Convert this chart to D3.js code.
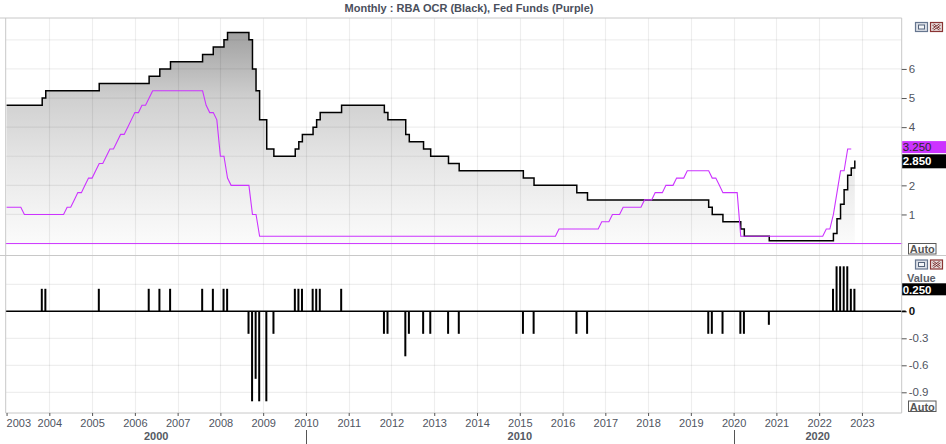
<!DOCTYPE html>
<html><head><meta charset="utf-8">
<script src="https://cdn.jsdelivr.net/npm/d3@7"></script>
<style>
body{margin:0;background:#fff;}
svg{display:block;font-family:"Liberation Sans",Arial,sans-serif;}
</style>
</head><body>
<svg id="chart" width="946" height="444"></svg>
<script>
// ---------------- DATA ----------------
const titleText = "Monthly : RBA OCR (Black), Fed Funds (Purple)";
const firstYear = 2003;
// RBA cash rate, one row per year (Jan..Dec), last row ends Nov 2022
const rbaOcr = [
  [4.75,4.75,4.75,4.75,4.75,4.75,4.75,4.75,4.75,4.75,5.00,5.25], // 2003
  [5.25,5.25,5.25,5.25,5.25,5.25,5.25,5.25,5.25,5.25,5.25,5.25], // 2004
  [5.25,5.25,5.50,5.50,5.50,5.50,5.50,5.50,5.50,5.50,5.50,5.50], // 2005
  [5.50,5.50,5.50,5.50,5.75,5.75,5.75,6.00,6.00,6.00,6.25,6.25], // 2006
  [6.25,6.25,6.25,6.25,6.25,6.25,6.25,6.50,6.50,6.50,6.75,6.75], // 2007
  [6.75,7.00,7.25,7.25,7.25,7.25,7.25,7.25,7.00,6.00,5.25,4.25], // 2008
  [4.25,3.25,3.25,3.00,3.00,3.00,3.00,3.00,3.00,3.25,3.50,3.75], // 2009
  [3.75,3.75,4.00,4.25,4.50,4.50,4.50,4.50,4.50,4.50,4.75,4.75], // 2010
  [4.75,4.75,4.75,4.75,4.75,4.75,4.75,4.75,4.75,4.75,4.50,4.25], // 2011
  [4.25,4.25,4.25,4.25,3.75,3.50,3.50,3.50,3.50,3.25,3.25,3.00], // 2012
  [3.00,3.00,3.00,3.00,2.75,2.75,2.75,2.50,2.50,2.50,2.50,2.50], // 2013
  [2.50,2.50,2.50,2.50,2.50,2.50,2.50,2.50,2.50,2.50,2.50,2.50], // 2014
  [2.50,2.25,2.25,2.25,2.00,2.00,2.00,2.00,2.00,2.00,2.00,2.00], // 2015
  [2.00,2.00,2.00,2.00,1.75,1.75,1.75,1.50,1.50,1.50,1.50,1.50], // 2016
  [1.50,1.50,1.50,1.50,1.50,1.50,1.50,1.50,1.50,1.50,1.50,1.50], // 2017
  [1.50,1.50,1.50,1.50,1.50,1.50,1.50,1.50,1.50,1.50,1.50,1.50], // 2018
  [1.50,1.50,1.50,1.50,1.50,1.25,1.00,1.00,1.00,0.75,0.75,0.75], // 2019
  [0.75,0.75,0.50,0.25,0.25,0.25,0.25,0.25,0.25,0.25,0.10,0.10], // 2020
  [0.10,0.10,0.10,0.10,0.10,0.10,0.10,0.10,0.10,0.10,0.10,0.10], // 2021
  [0.10,0.10,0.10,0.10,0.35,0.85,1.35,1.85,2.35,2.60,2.85]       // 2022
];
// Fed funds target (upper bound), month end, last row ends Oct 2022
const fedFunds = [
  [1.25,1.25,1.25,1.25,1.25,1.00,1.00,1.00,1.00,1.00,1.00,1.00], // 2003
  [1.00,1.00,1.00,1.00,1.00,1.25,1.25,1.50,1.75,1.75,2.00,2.25], // 2004
  [2.25,2.50,2.75,2.75,3.00,3.25,3.25,3.50,3.75,3.75,4.00,4.25], // 2005
  [4.50,4.50,4.75,4.75,5.00,5.25,5.25,5.25,5.25,5.25,5.25,5.25], // 2006
  [5.25,5.25,5.25,5.25,5.25,5.25,5.25,5.25,4.75,4.50,4.50,4.25], // 2007
  [3.00,3.00,2.25,2.00,2.00,2.00,2.00,2.00,2.00,1.00,1.00,0.25], // 2008
  [0.25,0.25,0.25,0.25,0.25,0.25,0.25,0.25,0.25,0.25,0.25,0.25], // 2009
  [0.25,0.25,0.25,0.25,0.25,0.25,0.25,0.25,0.25,0.25,0.25,0.25], // 2010
  [0.25,0.25,0.25,0.25,0.25,0.25,0.25,0.25,0.25,0.25,0.25,0.25], // 2011
  [0.25,0.25,0.25,0.25,0.25,0.25,0.25,0.25,0.25,0.25,0.25,0.25], // 2012
  [0.25,0.25,0.25,0.25,0.25,0.25,0.25,0.25,0.25,0.25,0.25,0.25], // 2013
  [0.25,0.25,0.25,0.25,0.25,0.25,0.25,0.25,0.25,0.25,0.25,0.25], // 2014
  [0.25,0.25,0.25,0.25,0.25,0.25,0.25,0.25,0.25,0.25,0.25,0.50], // 2015
  [0.50,0.50,0.50,0.50,0.50,0.50,0.50,0.50,0.50,0.50,0.50,0.75], // 2016
  [0.75,0.75,1.00,1.00,1.00,1.25,1.25,1.25,1.25,1.25,1.25,1.50], // 2017
  [1.50,1.50,1.75,1.75,1.75,2.00,2.00,2.00,2.25,2.25,2.25,2.50], // 2018
  [2.50,2.50,2.50,2.50,2.50,2.50,2.25,2.25,2.00,1.75,1.75,1.75], // 2019
  [1.75,1.75,0.25,0.25,0.25,0.25,0.25,0.25,0.25,0.25,0.25,0.25], // 2020
  [0.25,0.25,0.25,0.25,0.25,0.25,0.25,0.25,0.25,0.25,0.25,0.25], // 2021
  [0.25,0.25,0.50,0.50,1.00,1.75,2.50,2.50,3.25,3.25]            // 2022
];
const yearTicks = [2003,2004,2005,2006,2007,2008,2009,2010,2011,2012,2013,2014,2015,2016,2017,2018,2019,2020,2021,2022,2023];
const decadeLabels = [{label:"2000", from:2003, to:2010},{label:"2010", from:2010, to:2020},{label:"2020", from:2020, to:2024}];
const topTicks = [1,2,4,5,6];          // "3" sits under the value tags
const topGrid = [1,2,3,4,5,6,7];
const bottomTicks = [0,-0.3,-0.6,-0.9]; // "0.3" sits under the value tag
const bottomGrid = [0.3,-0.3,-0.6,-0.9];
const lastFed = "3.250", lastRba = "2.850", lastChange = "0.250";

// ---------------- SERIES ----------------
const toSeries = rows => rows.flatMap((row,yi)=>row.map((v,mi)=>({t: firstYear+yi+mi/12, v})));
const rba = toSeries(rbaOcr);
const fed = toSeries(fedFunds);
const changes = rba.map((d,i)=>({t:d.t, v: i===0?0:+(d.v-rba[i-1].v).toFixed(2)}));

// ---------------- LAYOUT ----------------
const L = 5.7, R = 901.7, T = 18, MID = 255.5, B = 413;
const svg = d3.select("#chart");
const x = d3.scaleLinear().domain([2002.98, 2023.93]).range([L, R]);
const yT = d3.scaleLinear().domain([-0.41, 7.75]).range([MID, T]);
const yB = d3.scaleLinear().domain([-1.13, 0.62]).range([B, MID]);
const purple = "#cc33ff";
const gridCol = "rgba(0,0,0,0.065)";
const txtCol = "#50555f";

const defs = svg.append("defs");
const grad = defs.append("linearGradient").attr("id","fillg")
  .attr("gradientUnits","userSpaceOnUse").attr("x1",0).attr("x2",0).attr("y1",T).attr("y2",yT(0));
[[0,"#9a9a9a"],[0.06,"#a0a0a0"],[0.23,"#bbbbbb"],[0.36,"#d0d0d0"],[0.64,"#e6e6e6"],[0.87,"#f4f4f4"],[1,"#fbfbfb"]]
  .forEach(([o,c])=>grad.append("stop").attr("offset",o).attr("stop-color",c));
defs.append("clipPath").attr("id","clipT").append("rect").attr("x",L).attr("y",T).attr("width",R-L).attr("height",MID-T);
defs.append("clipPath").attr("id","clipB").append("rect").attr("x",L).attr("y",MID).attr("width",R-L).attr("height",B-MID);

// title
svg.append("text").attr("x",469).attr("y",12).attr("text-anchor","middle")
  .attr("font-weight","bold").attr("font-size",11).attr("fill","#4a4f5c").text(titleText);

// ---------------- TOP PANEL ----------------
const gT = svg.append("g").attr("clip-path","url(#clipT)");
gT.append("path").datum(rba)
  .attr("d", d3.area().curve(d3.curveStepAfter).x(d=>x(d.t)).y0(yT(0)).y1(d=>yT(d.v)))
  .attr("fill","url(#fillg)");
gT.selectAll(".vg").data(yearTicks.slice(1)).join("line")
  .attr("x1",d=>Math.round(x(d))+0.5).attr("x2",d=>Math.round(x(d))+0.5).attr("y1",T).attr("y2",MID)
  .attr("stroke",gridCol).attr("stroke-width",1.2);
gT.selectAll(".hg").data(topGrid).join("line")
  .attr("x1",L).attr("x2",R).attr("y1",d=>yT(d)).attr("y2",d=>yT(d))
  .attr("stroke",gridCol).attr("stroke-width",1.2);
gT.append("path").datum(rba)
  .attr("d", d3.line().curve(d3.curveStepAfter).x(d=>x(d.t)).y(d=>yT(d.v)))
  .attr("fill","none").attr("stroke","#000").attr("stroke-width",1.5);
gT.append("path").datum(fed)
  .attr("d", d3.line().x(d=>x(d.t)).y(d=>yT(d.v)))
  .attr("fill","none").attr("stroke",purple).attr("stroke-width",1.1);
svg.append("line").attr("x1",L).attr("x2",R+0.5).attr("y1",yT(0)).attr("y2",yT(0))
  .attr("stroke",purple).attr("stroke-width",1);

// ---------------- BOTTOM PANEL ----------------
const gB = svg.append("g").attr("clip-path","url(#clipB)");
gB.selectAll(".vg").data(yearTicks.slice(1)).join("line")
  .attr("x1",d=>Math.round(x(d))+0.5).attr("x2",d=>Math.round(x(d))+0.5).attr("y1",MID).attr("y2",B)
  .attr("stroke",gridCol).attr("stroke-width",1.2);
gB.selectAll(".hg").data(bottomGrid).join("line")
  .attr("x1",L).attr("x2",R).attr("y1",d=>yB(d)).attr("y2",d=>yB(d))
  .attr("stroke",gridCol).attr("stroke-width",1.2);
gB.selectAll(".bar").data(changes.filter(d=>d.v!==0)).join("rect")
  .attr("x",d=>x(d.t)-1.4).attr("width",2)
  .attr("y",d=>Math.min(yB(d.v),yB(0))).attr("height",d=>Math.abs(yB(d.v)-yB(0)))
  .attr("fill","#000");
svg.append("line").attr("x1",L).attr("x2",R+4).attr("y1",yB(0)).attr("y2",yB(0))
  .attr("stroke","#000").attr("stroke-width",1.4);

// ---------------- FRAME ----------------
const frame = svg.append("g").attr("fill","none").attr("stroke","#c8c8c8").attr("stroke-width",1);
frame.append("line").attr("x1",0).attr("x2",R).attr("y1",T).attr("y2",T);
frame.append("line").attr("x1",L).attr("x2",L).attr("y1",T).attr("y2",B);
frame.append("line").attr("x1",R).attr("x2",R).attr("y1",T).attr("y2",B);
frame.append("line").attr("x1",0).attr("x2",946).attr("y1",MID).attr("y2",MID);
frame.append("line").attr("x1",L).attr("x2",R).attr("y1",B).attr("y2",B);

// ---------------- AXES ----------------
const axT = svg.append("g").attr("transform",`translate(${R},0)`)
  .call(d3.axisRight(yT).tickValues(topTicks).tickSize(5).tickPadding(2).tickFormat(d3.format("d")));
const axB = svg.append("g").attr("transform",`translate(${R},0)`)
  .call(d3.axisRight(yB).tickValues(bottomTicks).tickSize(5).tickPadding(2).tickFormat(d=>d===0?"0":d.toFixed(1)));
const axX = svg.append("g").attr("transform",`translate(0,${B})`)
  .call(d3.axisBottom(x).tickValues(yearTicks).tickSize(3).tickPadding(3).tickFormat(d3.format("d")));
[axT,axB,axX].forEach(a=>{
  a.select(".domain").remove();
  a.selectAll(".tick line").attr("stroke","#555");
  a.selectAll(".tick text").attr("fill",txtCol).attr("font-size",11.5)
    .attr("font-family",'"Liberation Sans",Arial,sans-serif');
});
axX.selectAll(".tick text").attr("font-size",11);
axX.selectAll(".tick").filter(d=>d===2003).select("text").attr("text-anchor","start").attr("x",-0.5);
axB.selectAll(".tick").filter(d=>d===0).select("text").attr("fill","#111").attr("font-weight","bold");
axB.selectAll(".tick").filter(d=>d===0).select("line").attr("stroke","#000");

// decade labels
decadeLabels.forEach(dl=>{
  const a = x(dl.from), b = Math.min(x(dl.to), R);
  svg.append("text").attr("x",(a+b)/2).attr("y",439.5).attr("text-anchor","middle")
    .attr("font-weight","bold").attr("font-size",11).attr("fill","#555a63").text(dl.label);
  if (dl.from > 2003) svg.append("line").attr("x1",Math.round(a)+0.5).attr("x2",Math.round(a)+0.5)
    .attr("y1",430).attr("y2",444).attr("stroke","#555").attr("stroke-width",1);
});

// ---------------- VALUE TAGS ----------------
function tag(yc, h, bg, fg, bold, label){
  svg.append("rect").attr("x",R+0.5).attr("y",yc-h/2).attr("width",946-R).attr("height",h).attr("fill",bg);
  svg.append("text").attr("x",R+1).attr("y",yc+4.2).attr("font-size",11.5).attr("fill",fg)
    .attr("font-weight",bold?"bold":"normal").text(label);
}
svg.append("text").attr("x",907).attr("y",281.8).attr("font-size",11).attr("font-weight","bold")
  .attr("fill","#5a5f6a").text("Value");
let yF = yT(fed[fed.length-1].v), yR = yT(rba[rba.length-1].v);
const need = 13;
if (yR - yF < need){ const s=(need-(yR-yF))/2; yF-=s; yR+=s; }
tag(yF-1.2, 12, purple, "#2a2a2a", false, lastFed);
tag(yR, 14, "#000", "#fff", true, lastRba);
tag(yB(changes[changes.length-1].v)+0.5, 12, "#000", "#fff", true, lastChange);

// ---------------- BUTTONS & AUTO ----------------
function buttons(y){
  svg.append("rect").attr("x",915.5).attr("y",y+0.5).attr("width",12).attr("height",9)
    .attr("fill","#dde1e8").attr("stroke","#66768f").attr("stroke-width",1.2);
  svg.append("rect").attr("x",918.5).attr("y",y+3).attr("width",6).attr("height",4)
    .attr("fill","#f4f6f9").attr("stroke","#55647c").attr("stroke-width",1);
  svg.append("rect").attr("x",930.5).attr("y",y+0.5).attr("width",12).attr("height",9)
    .attr("fill","#e6dcdc").attr("stroke","#8a3434").attr("stroke-width",1.2);
  [[933,y+2.5,940,y+7.5],[940,y+2.5,933,y+7.5]].forEach(([a,b,c,d])=>{
    svg.append("line").attr("x1",a).attr("y1",b).attr("x2",c).attr("y2",d).attr("stroke","#7a3030").attr("stroke-width",2.4);
    svg.append("line").attr("x1",a).attr("y1",b).attr("x2",c).attr("y2",d).attr("stroke","#f2eeee").attr("stroke-width",1);
  });
}
buttons(22);
buttons(259.5);
function autoBox(y){
  svg.append("rect").attr("x",908.5).attr("y",y+0.5).attr("width",27.5).attr("height",10.5)
    .attr("fill","#fff").attr("stroke","#5a5a5a").attr("stroke-width",1);
  svg.append("text").attr("x",922.3).attr("y",y+10).attr("text-anchor","middle").attr("font-size",11)
    .attr("font-weight","bold").attr("fill","#555").text("Auto");
}
autoBox(243);
autoBox(400.5);
</script>
</body></html>
